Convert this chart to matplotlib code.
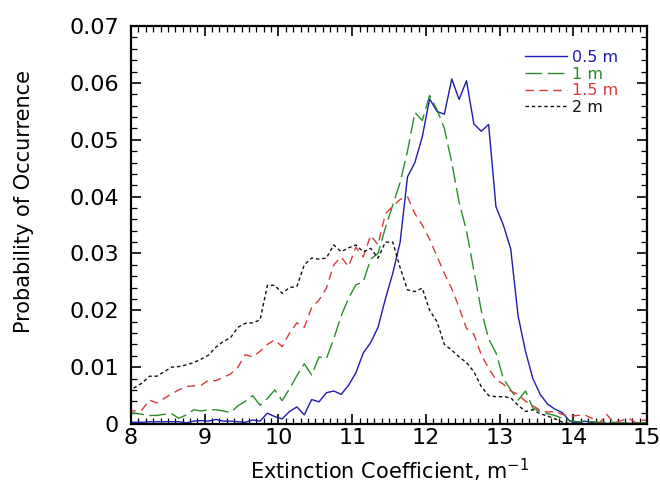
import matplotlib
matplotlib.use("Agg")
import matplotlib.pyplot as plt
from matplotlib.ticker import MultipleLocator, FuncFormatter

# bin centres, m^-1
ext = [7.95, 8.05, 8.15, 8.25, 8.35, 8.45, 8.55, 8.65, 8.75, 8.85,
       8.95, 9.05, 9.15, 9.25, 9.35, 9.45, 9.55, 9.65, 9.75, 9.85,
       9.95, 10.05, 10.15, 10.25, 10.35, 10.45, 10.55, 10.65, 10.75, 10.85,
       10.95, 11.05, 11.15, 11.25, 11.35, 11.45, 11.55, 11.65, 11.75, 11.85,
       11.95, 12.05, 12.15, 12.25, 12.35, 12.45, 12.55, 12.65, 12.75, 12.85,
       12.95, 13.05, 13.15, 13.25, 13.35, 13.45, 13.55, 13.65, 13.75, 13.85,
       13.95, 14.05, 14.15, 14.25, 14.35, 14.45, 14.55, 14.65, 14.75, 14.85,
       14.95, 15.05]

p_05 = [0.0003, 0.0003, 0.0003, 0.0004, 0.0004, 0.0004, 0.0004, 0.0004, 0.0002, 0.0005,
        0.0006, 0.0005, 0.0008, 0.0005, 0.0005, 0.0004, 0.0003, 0.0007, 0.0005, 0.0019,
        0.0013, 0.0009, 0.0022, 0.0030, 0.0016, 0.0043, 0.0039, 0.0055, 0.0058, 0.0052,
        0.0068, 0.0090, 0.0125, 0.0143, 0.0170, 0.0220, 0.0265, 0.0320, 0.0435, 0.0460,
        0.0505, 0.0572, 0.0550, 0.0545, 0.0607, 0.0571, 0.0604, 0.0528, 0.0515, 0.0527,
        0.0382, 0.0350, 0.0308, 0.0190, 0.0128, 0.0080, 0.0052, 0.0035, 0.0026, 0.0020,
        0.0005, 0.0002, 0.0005, 0.0003, 0.0002, 0.0001, 0.0001, 0.0001, 0.0001, 0.0001,
        0.0001, 0.0001]

p_1 = [0.0019, 0.0019, 0.0017, 0.0015, 0.0015, 0.0017, 0.0018, 0.0010, 0.0016, 0.0025,
       0.0023, 0.0025, 0.0025, 0.0023, 0.0020, 0.0032, 0.0040, 0.0050, 0.0033, 0.0045,
       0.0060, 0.0041, 0.0062, 0.0085, 0.0106, 0.0086, 0.0118, 0.0115, 0.0150, 0.0190,
       0.0221, 0.0245, 0.0250, 0.0290, 0.0300, 0.0345, 0.0385, 0.0425, 0.0480, 0.0548,
       0.0534, 0.0578, 0.0553, 0.0520, 0.0460, 0.0390, 0.0340, 0.0270, 0.0200, 0.0150,
       0.0125, 0.0080, 0.0060, 0.0042, 0.0058, 0.0028, 0.0022, 0.0018, 0.0015, 0.0010,
       0.0006, 0.0004, 0.0004, 0.0004, 0.0003, 0.0003, 0.0003, 0.0002, 0.0002, 0.0002,
       0.0002, 0.0002]

p_15 = [0.0023, 0.0023, 0.0025, 0.0042, 0.0037, 0.0045, 0.0053, 0.0060, 0.0066, 0.0067,
        0.0068, 0.0077, 0.0076, 0.0082, 0.0088, 0.0100, 0.0122, 0.0118, 0.0128, 0.0140,
        0.0148, 0.0136, 0.0160, 0.0178, 0.0170, 0.0205, 0.0218, 0.0239, 0.0280, 0.0294,
        0.0277, 0.0311, 0.0294, 0.0332, 0.0315, 0.0370, 0.0383, 0.0395, 0.0400, 0.0370,
        0.0350, 0.0325, 0.0295, 0.0265, 0.0238, 0.0205, 0.0168, 0.0158, 0.0122, 0.0098,
        0.0078, 0.0070, 0.0058, 0.0052, 0.0040, 0.0032, 0.0024, 0.0021, 0.0022, 0.0017,
        0.0013, 0.0015, 0.0016, 0.0010, 0.0001, 0.0017, 0.0002, 0.0006, 0.0010, 0.0002,
        0.0007, 0.0005]

p_2 = [0.0062, 0.0064, 0.0072, 0.0084, 0.0084, 0.0092, 0.0100, 0.0101, 0.0104, 0.0108,
       0.0114, 0.0121, 0.0135, 0.0145, 0.0152, 0.0170, 0.0177, 0.0178, 0.0183, 0.0244,
       0.0244, 0.0230, 0.0240, 0.0242, 0.0280, 0.0292, 0.0290, 0.0292, 0.0315, 0.0303,
       0.0310, 0.0315, 0.0303, 0.0309, 0.0292, 0.0320, 0.0320, 0.0275, 0.0236, 0.0233,
       0.0239, 0.0200, 0.0180, 0.0140, 0.0130, 0.0118, 0.0108, 0.0092, 0.0066, 0.0050,
       0.0048, 0.0048, 0.0046, 0.0033, 0.0022, 0.0025, 0.0018, 0.0014, 0.0009, 0.0003,
       0.0001, 0.0, 0.0, 0.0, 0.0, 0.0, 0.0, 0.0, 0.0, 0.0,
       0.0, 0.0]

labels = ['0.5 m', '1 m', '1.5 m', '2 m']
colors = ['#1c1cb0', '#2a8c2a', '#d83a3a', '#111111']

fig = plt.figure(figsize=(6.6, 4.93), dpi=100)
ax = fig.add_axes([0.1985, 0.140, 0.782, 0.807])

ax.plot(ext, p_05, color=colors[0], lw=1.0, label=labels[0])
ax.plot(ext, p_1, color=colors[1], lw=1.0, dashes=(12, 4), label=labels[1])
ax.plot(ext, p_15, color=colors[2], lw=1.0, dashes=(6, 4), label=labels[2])
ax.plot(ext, p_2, color=colors[3], lw=1.0, dashes=(2.5, 2), label=labels[3])

ax.set_xlim(8, 15)
ax.set_ylim(0, 0.07)
ax.xaxis.set_major_locator(MultipleLocator(1))
ax.xaxis.set_minor_locator(MultipleLocator(0.1))
ax.yaxis.set_major_locator(MultipleLocator(0.01))
ax.yaxis.set_minor_locator(MultipleLocator(0.002))
ax.yaxis.set_major_formatter(FuncFormatter(lambda v, p: '0' if abs(v) < 1e-9 else '%.2f' % v))
ax.tick_params(which='both', direction='in', top=True, right=True, labelsize=16)
ax.tick_params(which='major', length=7, width=1.2)
ax.tick_params(which='minor', length=4, width=0.9)
ax.tick_params(axis='y', which='major', pad=8.5)
ax.tick_params(axis='x', which='major', pad=3)
for s in ax.spines.values():
    s.set_linewidth(1.6)

ax.set_xlabel('Extinction Coefficient, m$^{-1}$', fontsize=15, labelpad=6)
ax.set_ylabel('Probability of Occurrence', fontsize=15)
ax.yaxis.set_label_coords(-0.188, 0.558)

leg = ax.legend(loc='upper left', bbox_to_anchor=(0.764, 0.94), frameon=False,
                fontsize=11.5, handlelength=2.6, handletextpad=0.3,
                labelspacing=0.1, borderpad=0, borderaxespad=0)
for t, c in zip(leg.get_texts(), colors):
    t.set_color(c)

fig.savefig('out.png', dpi=100)
